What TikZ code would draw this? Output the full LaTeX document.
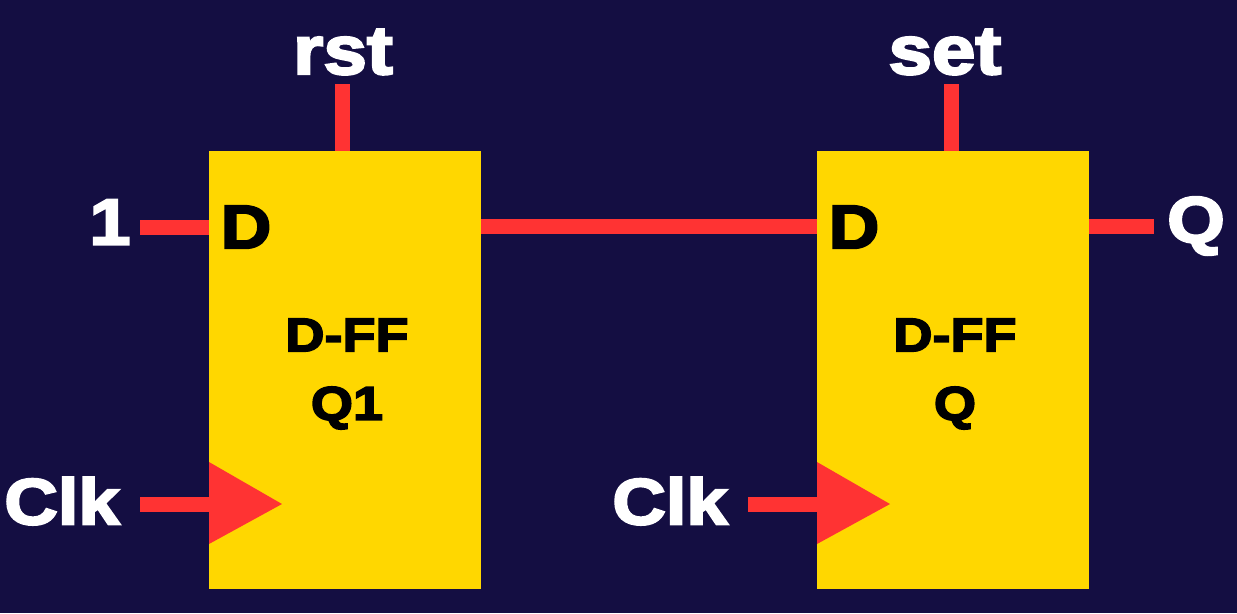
\documentclass[tikz,border=0pt]{standalone}
\usepackage{fontspec}
\setmainfont{Liberation Sans}[BoldFeatures={FakeBold=3.5,FakeStretch=1.14}]
\usepackage{xcolor}
\definecolor{fondo}{HTML}{140E42}
\definecolor{caja}{HTML}{FFD700}
\definecolor{cable}{HTML}{FF3333}
\tikzset{
    ffbox/.style={fill=caja, minimum width=5.44cm, minimum height=8.76cm, inner sep=0pt},
    wire/.style={draw=cable, line width=0.3cm},
    clktri/.style={fill=cable},
    biglabel/.style={text=white, font=\fontsize{37}{37}\bfseries\selectfont, inner sep=0pt},
    ctllabel/.style={text=white, font=\fontsize{39}{39}\bfseries\selectfont, inner sep=0pt},
    pinlabel/.style={text=black, font=\fontsize{35}{35}\bfseries\selectfont, inner sep=0pt},
    boxlabel/.style={text=black, font=\fontsize{27}{27}\bfseries\selectfont, inner sep=0pt}
}

\begin{document}
\begin{tikzpicture}[x=0.02cm, y=-0.02cm]
    \fill[fondo] (0,0) rectangle (1237,613);
    \useasboundingbox (0,0) rectangle (1237,613);

    % Los dos biestables
    \foreach \i/\x/\ctl/\ctlx/\ctlw/\name in {1/345/rst/343/342.5/Q1, 2/953/set/945/951.5/Q} {
        \coordinate (ctlend\i) at (\ctlw,84);
        \coordinate (clkend\i) at (\x-205,504);
        \node[ffbox] (ff\i) at (\x,370) {};
        \draw[wire] (ctlend\i) -- (ctlend\i |- ff\i.north);
        \draw[wire] (clkend\i) -- (clkend\i -| ff\i.west);
        \fill[clktri] (\x-136,462) -- (\x-63,504) -- (\x-136,544) -- cycle;
        \node[ctllabel] (ctl\i) at (\ctlx,52) {\ctl};
        \node[biglabel] (clk\i) at (\x-283,501) {Clk};
        \node[pinlabel] (d\i) at (\x-99,227) {D};
        \node[boxlabel] (type\i) at (\x+2,335) {D-FF};
        \node[boxlabel] (name\i) at (\x+2,408) {\name};
    }

    % Entrada, union y salida
    \coordinate (inend) at (140,227);
    \coordinate (outend) at (1154,226);
    \node[biglabel] (one) at (110,222) {1};
    \node[biglabel] (out) at (1196,226) {Q};
    \draw[wire] (inend) -- (inend -| ff1.west);
    \draw[wire] (ff1.east |- outend) -- (ff2.west |- outend);
    \draw[wire] (ff2.east |- outend) -- (outend);
\end{tikzpicture}
\end{document}
